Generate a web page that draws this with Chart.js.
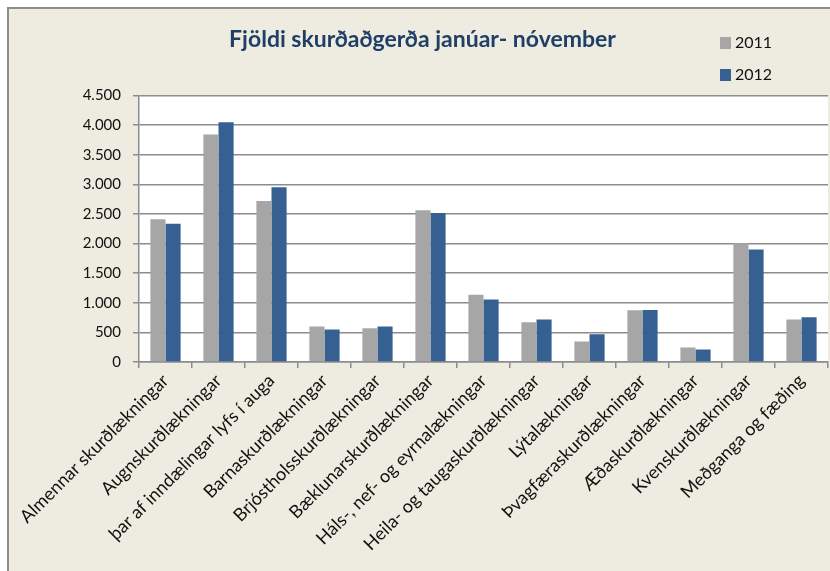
<!DOCTYPE html>
<html>
<head>
<meta charset="utf-8">
<script src="https://cdn.jsdelivr.net/npm/chart.js@4"></script>
<style>
  html, body { margin: 0; padding: 0; background: #ffffff; }
  #wrap {
    position: absolute; left: 7px; top: 7px;
    width: 821px; height: 562px;
    border-left: 2px solid #8c8c8c; border-top: 2px solid #8c8c8c;
    background: #eeebe0;
  }
</style>
</head>
<body>
<div id="wrap"><canvas id="surgeryChart" width="821" height="562"></canvas></div>
<script>
const categories = [
  "Almennar skurðlækningar",
  "Augnskurðlækningar",
  "þar af inndælingar lyfs í auga",
  "Barnaskurðlækningar",
  "Brjóstholsskurðlækningar",
  "Bæklunarskurðlækningar",
  "Háls-, nef- og eyrnalækningar",
  "Heila- og taugaskurðlækningar",
  "Lýtalækningar",
  "Þvagfæraskurðlækningar",
  "Æðaskurðlækningar",
  "Kvenskurðlækningar",
  "Meðganga og fæðing"
];
const values2011 = [2410, 3845, 2720, 600, 570, 2565, 1135, 670, 345, 875, 245, 2005, 720];
const values2012 = [2335, 4050, 2950, 550, 600, 2515, 1055, 720, 470, 880, 210, 1900, 755];
const yTicks = [0, 500, 1000, 1500, 2000, 2500, 3000, 3500, 4000, 4500];

const FONT = "Lato, 'Liberation Sans', sans-serif";

function formatThousands(v) {
  return String(v).replace(/\B(?=(\d{3})+(?!\d))/g, ".");
}

// legend stacked vertically in the top right corner, like the original
const sideLegend = {
  id: "sideLegend",
  afterDraw(chart) {
    const ctx = chart.ctx;
    ctx.save();
    ctx.font = "16px " + FONT;
    ctx.textBaseline = "middle";
    chart.data.datasets.forEach((ds, i) => {
      const y = 34 + i * 32;
      ctx.fillStyle = ds.backgroundColor;
      ctx.fillRect(711, y - 6, 11, 12);
      ctx.fillStyle = "#111";
      ctx.fillText(ds.label, 726, y);
    });
    ctx.restore();
  }
};

new Chart(document.getElementById("surgeryChart"), {
  type: "bar",
  data: {
    labels: categories,
    datasets: [
      { label: "2011", data: values2011, backgroundColor: "#a6a6a6" },
      { label: "2012", data: values2012, backgroundColor: "#366092" }
    ]
  },
  options: {
    responsive: false,
    animation: false,
    layout: { padding: { left: 8, right: 2, top: 0, bottom: 0 } },
    datasets: {
      bar: { categoryPercentage: 0.57, barPercentage: 1.0, borderWidth: 0 }
    },
    plugins: {
      legend: { display: false },
      tooltip: { enabled: false },
      title: {
        display: true,
        text: "Fjöldi skurðaðgerða janúar- nóvember",
        color: "#1f3f66",
        font: { family: FONT, size: 23, weight: "bold" },
        padding: { top: 17, bottom: 42 }
      }
    },
    scales: {
      x: {
        grid: {
          display: true, drawOnChartArea: false, drawTicks: true,
          tickLength: 6, color: "#8c8c8c", lineWidth: 1.5
        },
        border: { color: "#8c8c8c", width: 1.5 },
        ticks: {
          color: "#111", font: { family: FONT, size: 18 },
          minRotation: 45, maxRotation: 45, autoSkip: false, padding: 2
        },
        afterFit(scale) { scale.height = 209; }
      },
      y: {
        min: 0, max: 4500,
        afterBuildTicks(scale) { scale.ticks = yTicks.map(v => ({ value: v })); },
        grid: { color: "#8c8c8c", lineWidth: 1.5, tickLength: 6 },
        border: { color: "#8c8c8c", width: 1.5 },
        ticks: {
          color: "#111", font: { family: FONT, size: 15 }, padding: 12,
          callback: v => formatThousands(v)
        },
        afterFit(scale) { scale.width = 122; }
      }
    }
  },
  plugins: [
    sideLegend,
    {
      id: "plotBg",
      beforeDraw(chart) {
        const a = chart.chartArea;
        chart.ctx.save();
        chart.ctx.fillStyle = "#ffffff";
        chart.ctx.fillRect(a.left, a.top, a.right - a.left, a.bottom - a.top);
        chart.ctx.restore();
      }
    }
  ]
});
</script>
</body>
</html>
